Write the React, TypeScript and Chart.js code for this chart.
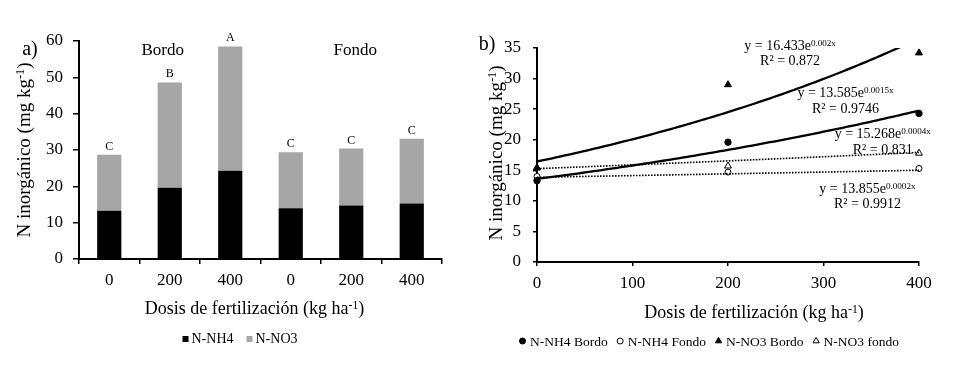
import React, { useEffect, useRef } from "react";
import { Chart, registerables } from "chart.js";

Chart.register(...registerables);

const FONT = '"Liberation Serif", "Times New Roman", serif';

// ---- data (shared by both panels) ----
const doseLabels = ["0", "200", "400", "0", "200", "400"];
const doses = [0, 200, 400];
const nh4Bordo = [13.3, 19.6, 24.3];
const nh4Fondo = [14.0, 14.7, 15.3];
const no3Bordo = [15.4, 29.0, 34.2];
const no3Fondo = [15.4, 15.7, 17.8];
const letterLabels = ["C", "B", "A", "C", "C", "C"];
const groupLabels = ["Bordo", "Fondo"];

// exponential trend lines printed on panel b: y = a·e^(b·x)
const trendNames = ["N-NH4 Bordo", "N-NH4 Fondo", "N-NO3 Bordo", "N-NO3 fondo"];
const trendA = [13.585, 13.855, 16.433, 15.268];
const trendB = ["0.0015", "0.0002", "0.002", "0.0004"];
const trendR2 = ["0.9746", "0.9912", "0.872", "0.831"];

// axis ranges
const yTicksA = { min: 0, max: 60, step: 10 };
const yTicksB = { min: 0, max: 35, step: 5 };
const xTicksB = { min: 0, max: 400, step: 100 };

// ---- annotation layout (data coordinates of label centres / baselines) ----
const eqAnchors = [
  { x: 323, y: 27.0, r2y: 24.4 },
  { x: 346, y: 11.3, r2y: 8.9 },
  { x: 265, y: 34.7, r2y: 32.3 },
  { x: 362, y: 20.3, r2y: 17.7 },
];

type Seg = { t: string; sup?: boolean };

function drawRich(
  ctx: CanvasRenderingContext2D,
  segs: Seg[],
  x: number,
  y: number,
  size: number,
  align: "left" | "center" | "right" = "center",
  supScale = 0.65,
  supRise = 0.3
) {
  const supSize = size * supScale;
  const widths = segs.map((s) => {
    ctx.font = `${s.sup ? supSize : size}px ${FONT}`;
    return ctx.measureText(s.t).width;
  });
  const total = widths.reduce((a, b) => a + b, 0);
  let cx = align === "center" ? x - total / 2 : align === "right" ? x - total : x;
  ctx.textAlign = "left";
  ctx.textBaseline = "alphabetic";
  segs.forEach((s, i) => {
    ctx.font = `${s.sup ? supSize : size}px ${FONT}`;
    ctx.fillText(s.t, cx, s.sup ? y - size * supRise : y);
    cx += widths[i];
  });
  return total;
}

const yTitleSegs: Seg[] = [{ t: "N inorgánico (mg kg" }, { t: "-1", sup: true }, { t: ")" }];
const xTitleSegs: Seg[] = [{ t: "Dosis de fertilización (kg ha" }, { t: "-1", sup: true }, { t: ")" }];

function drawYTitle(ctx: CanvasRenderingContext2D, bx: number, cy: number, size: number) {
  ctx.save();
  ctx.translate(bx, cy);
  ctx.rotate(-Math.PI / 2);
  drawRich(ctx, yTitleSegs, 0, 0, size, "center");
  ctx.restore();
}

function drawMarker(ctx: CanvasRenderingContext2D, kind: string, x: number, y: number, filled: boolean) {
  ctx.save();
  ctx.beginPath();
  if (kind === "circle") {
    ctx.arc(x, y, 3, 0, Math.PI * 2);
  } else {
    const r = 3.6;
    ctx.moveTo(x, y - r);
    ctx.lineTo(x + r * 0.866, y + r * 0.5);
    ctx.lineTo(x - r * 0.866, y + r * 0.5);
    ctx.closePath();
  }
  ctx.fillStyle = filled ? "#000" : "#fff";
  ctx.fill();
  ctx.lineWidth = 1;
  ctx.strokeStyle = "#000";
  ctx.stroke();
  ctx.restore();
}

const leftDecor = {
  id: "leftDecor",
  afterDraw(chart: any) {
    const ctx: CanvasRenderingContext2D = chart.ctx;
    const xs = chart.scales.x;
    const ys = chart.scales.y;
    const area = chart.chartArea;
    ctx.save();
    ctx.fillStyle = "#000";
    // panel letter
    drawRich(ctx, [{ t: "a)" }], 30, 55, 20, "center");
    // group labels
    drawRich(ctx, [{ t: groupLabels[0] }], xs.getPixelForValue(1) - 7, 55, 17, "center");
    drawRich(ctx, [{ t: groupLabels[1] }], xs.getPixelForValue(4) + 4, 55, 17, "center");
    // significance letters
    const ds0 = chart.data.datasets[0].data as number[];
    const ds1 = chart.data.datasets[1].data as number[];
    letterLabels.forEach((l, i) => {
      const top = ys.getPixelForValue(ds0[i] + ds1[i]);
      drawRich(ctx, [{ t: l }], xs.getPixelForValue(i), top - 5, 12, "center");
    });
    // axis titles
    drawYTitle(ctx, 30, (area.top + area.bottom) / 2, 19);
    drawRich(ctx, xTitleSegs, (area.left + area.right) / 2 - 6, 314, 18, "center");
    // legend
    const items = chart.data.datasets.map((d: any) => ({ label: d.label, color: d.backgroundColor }));
    ctx.font = `14px ${FONT}`;
    const sq = 6, gap = 3, itemGap = 13;
    const widths = items.map((it: any) => sq + gap + ctx.measureText(it.label).width);
    const total = widths.reduce((a: number, b: number) => a + b, 0) + itemGap * (items.length - 1);
    let lx = 240 - total / 2;
    const by = 343;
    items.forEach((it: any, i: number) => {
      ctx.fillStyle = it.color;
      ctx.fillRect(lx, by - sq - 1, sq, sq);
      ctx.fillStyle = "#000";
      drawRich(ctx, [{ t: it.label }], lx + sq + gap, by, 14, "left");
      lx += widths[i] + itemGap;
    });
    ctx.restore();
  },
};

const rightDecor = {
  id: "rightDecor",
  afterDraw(chart: any) {
    const ctx: CanvasRenderingContext2D = chart.ctx;
    const xs = chart.scales.x;
    const ys = chart.scales.y;
    const area = chart.chartArea;
    ctx.save();
    ctx.fillStyle = "#000";
    drawRich(ctx, [{ t: "b)" }], 17, 50, 20, "center");
    // equations
    eqAnchors.forEach((a, i) => {
      const px = xs.getPixelForValue(a.x);
      drawRich(
        ctx,
        [{ t: `y = ${trendA[i].toFixed(3)}e` }, { t: `${trendB[i]}x`, sup: true }],
        px,
        ys.getPixelForValue(a.y),
        14,
        "center"
      );
      drawRich(ctx, [{ t: `R² = ${trendR2[i]}` }], px, ys.getPixelForValue(a.r2y), 14, "center");
    });
    // axis titles
    drawYTitle(ctx, 32, (area.top + area.bottom) / 2 - 2, 19);
    drawRich(ctx, xTitleSegs, (area.left + area.right) / 2 + 26, 318, 18, "center");
    // legend
    const kinds = [
      { k: "circle", f: true },
      { k: "circle", f: false },
      { k: "triangle", f: true },
      { k: "triangle", f: false },
    ];
    ctx.font = `13.5px ${FONT}`;
    const mw = 7, gap = 4, itemGap = 9;
    const widths = trendNames.map((n) => mw + gap + ctx.measureText(n).width);
    const total = widths.reduce((a, b) => a + b, 0) + itemGap * (trendNames.length - 1);
    let lx = 239 - total / 2;
    const by = 346;
    trendNames.forEach((n, i) => {
      drawMarker(ctx, kinds[i].k, lx + mw / 2, by - 5, kinds[i].f);
      ctx.fillStyle = "#000";
      drawRich(ctx, [{ t: n }], lx + mw + gap, by, 13.5, "left");
      lx += widths[i] + itemGap;
    });
    ctx.restore();
  },
};

function trendPoints(i: number) {
  const b = parseFloat(trendB[i]);
  const pts: { x: number; y: number }[] = [];
  for (let x = xTicksB.min; x <= xTicksB.max; x += 4) pts.push({ x, y: trendA[i] * Math.exp(b * x) });
  return pts;
}

const toXY = (vals: number[]) => vals.map((v, i) => ({ x: doses[i], y: v }));

export default function App() {
  const leftRef = useRef<HTMLCanvasElement>(null);
  const rightRef = useRef<HTMLCanvasElement>(null);

  useEffect(() => {
    const tickFont = { family: FONT, size: 17 };
    const c1 = new Chart(leftRef.current!, {
      type: "bar",
      data: {
        labels: doseLabels,
        datasets: [
          {
            label: "N-NH4",
            data: [...nh4Bordo, ...nh4Fondo],
            backgroundColor: "#000000",
            barPercentage: 1,
            categoryPercentage: 0.4,
          },
          {
            label: "N-NO3",
            data: [...no3Bordo, ...no3Fondo],
            backgroundColor: "#a6a6a6",
            barPercentage: 1,
            categoryPercentage: 0.4,
          },
        ],
      },
      options: {
        responsive: false,
        animation: false,
        devicePixelRatio: 1,
        layout: { padding: { left: 0, right: 28, top: 41, bottom: 0 } },
        plugins: { legend: { display: false }, tooltip: { enabled: false } },
        scales: {
          x: {
            stacked: true,
            grid: { display: true, offset: true, drawOnChartArea: false, drawTicks: true, tickLength: 5, color: "#000", lineWidth: 1.5 },
            border: { display: true, color: "#000", width: 2 },
            ticks: { color: "#000", font: tickFont, padding: 6 },
            afterFit: (s: any) => {
              s.height = 109;
            },
          },
          y: {
            stacked: true,
            min: yTicksA.min,
            max: yTicksA.max,
            ticks: { stepSize: yTicksA.step, color: "#000", font: tickFont, padding: 10 },
            grid: { drawOnChartArea: false, drawTicks: true, tickLength: 6, color: "#000", lineWidth: 1.5 },
            border: { display: true, color: "#000", width: 2 },
            afterFit: (s: any) => {
              s.width = 79;
            },
          },
        },
      } as any,
      plugins: [leftDecor],
    });

    const pointSets = [
      { data: nh4Bordo, style: "circle", fill: true, r: 3.2 },
      { data: nh4Fondo, style: "circle", fill: false, r: 3 },
      { data: no3Bordo, style: "triangle", fill: true, r: 4 },
      { data: no3Fondo, style: "triangle", fill: false, r: 4 },
    ];
    const c2 = new Chart(rightRef.current!, {
      type: "scatter",
      data: {
        datasets: [
          ...trendNames.map((n, i) => ({
            label: "trend " + n,
            data: trendPoints(i),
            showLine: true,
            pointRadius: 0,
            borderColor: "#000",
            borderWidth: i % 2 === 0 ? 2.3 : 1.6,
            borderDash: i % 2 === 0 ? [] : [1.6, 1.4],
            tension: 0,
          })),
          ...pointSets.map((p, i) => ({
            label: trendNames[i],
            data: toXY(p.data),
            showLine: false,
            pointStyle: p.style,
            pointRadius: p.r,
            pointBackgroundColor: p.fill ? "#000" : "#fff",
            pointBorderColor: "#000",
            pointBorderWidth: 1,
            clip: false,
          })),
        ],
      },
      options: {
        responsive: false,
        animation: false,
        devicePixelRatio: 1,
        layout: { padding: { left: 0, right: 34, top: 48, bottom: 0 } },
        plugins: { legend: { display: false }, tooltip: { enabled: false } },
        scales: {
          x: {
            type: "linear",
            min: xTicksB.min,
            max: xTicksB.max,
            ticks: { stepSize: xTicksB.step, color: "#000", font: tickFont, padding: 7 },
            grid: { drawOnChartArea: false, drawTicks: true, tickLength: 4, color: "#000", lineWidth: 1.5 },
            border: { display: true, color: "#000", width: 2 },
            afterFit: (s: any) => {
              s.height = 106;
            },
          },
          y: {
            min: yTicksB.min,
            max: yTicksB.max,
            ticks: { stepSize: yTicksB.step, color: "#000", font: tickFont, padding: 12 },
            grid: { drawOnChartArea: false, drawTicks: true, tickLength: 4, color: "#000", lineWidth: 1.5 },
            border: { display: true, color: "#000", width: 2 },
            afterFit: (s: any) => {
              s.width = 67;
            },
          },
        },
      } as any,
      plugins: [rightDecor],
    });

    return () => {
      c1.destroy();
      c2.destroy();
    };
  }, []);

  return (
    <div style={{ position: "absolute", left: 0, top: 0, width: 953, height: 368, background: "#fff" }}>
      <canvas ref={leftRef} width={470} height={368} style={{ position: "absolute", left: 0, top: 0 }} />
      <canvas ref={rightRef} width={483} height={368} style={{ position: "absolute", left: 470, top: 0 }} />
    </div>
  );
}
